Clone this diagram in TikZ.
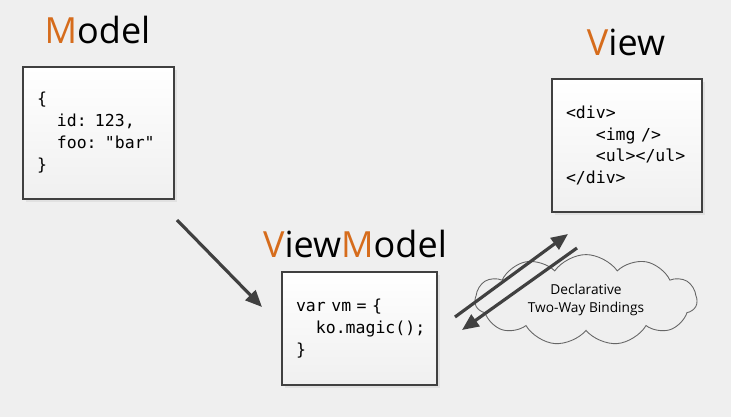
\documentclass[tikz,border=0pt]{standalone}
\usepackage{fontspec}
\setmainfont{Open Sans}
\setmonofont{DejaVu Sans Mono}
\usetikzlibrary{arrows.meta,shapes.symbols,shadows}
\definecolor{bg}{RGB}{239,239,239}
\definecolor{mvvm}{RGB}{214,108,28}
\definecolor{edge}{RGB}{64,64,64}
\newcommand{\hl}[1]{\textcolor{mvvm}{#1}}
\newcommand{\ind}[1]{\phantom{#1}}

\begin{document}
\begin{tikzpicture}[x=0.02cm, y=-0.02cm,
    title/.style={anchor=base, inner sep=0pt, font=\fontsize{20.5}{24}\selectfont},
    codebox/.style={draw=edge, line width=0.6pt, top color=white, bottom color=black!6,
        align=left, inner xsep=0.28cm, font=\fontsize{9.4}{12.5}\selectfont\ttfamily,
        drop shadow={shadow xshift=1.5pt, shadow yshift=-1.5pt, opacity=0.12}},
    link/.style={draw=edge, line width=1.8pt, -{Triangle[length=9.5pt,width=8pt]}}]
    \fill[bg] (0,0) rectangle (731,417);
    \useasboundingbox (0,0) rectangle (731,417);

    % titles
    \node[title] (mtitle) at (97.5,43) {\hl{M}odel};
    \node[title] (vtitle) at (626,55) {\hl{V}iew};
    \node[title] (vmtitle) at (355,257) {\hl{V}iew\hl{M}odel};

    % boxes
    \node[codebox, minimum width=3.02cm, minimum height=2.64cm, text width=2.46cm]
        (model) at (98.5,133) {\{\\\ind{xx}id: 123,\\\ind{xx}foo: "bar"\\\}};
    \node[codebox, minimum width=3.0cm, minimum height=2.66cm, text width=2.44cm]
        (view) at (627,145.5) {<div>\\\ind{xxx}<img />\\\ind{xxx}<ul></ul>\\</div>};
    \node[codebox, minimum width=3.1cm, minimum height=2.26cm, text width=2.54cm]
        (vm) at (359.5,328.5) {var vm = \{\\\ind{xx}ko.magic();\\\}};

    % bindings
    \node[cloud, cloud puffs=11, cloud puff arc=110, aspect=2.7, draw=edge!80, fill=bg,
        line width=0.5pt, minimum width=4.44cm, minimum height=1.75cm, align=center,
        font=\fontsize{7.8}{10}\selectfont] (bind) at (586,300) {Declarative\\Two-Way Bindings};

    \coordinate (m1) at (177,220);
    \coordinate (m2) at (262,307);
    \draw[link] (m1) -- (m2);
    \coordinate (b1) at (455,317);
    \coordinate (b2) at (568,234);
    \coordinate (b3) at (577,248);
    \coordinate (b4) at (462,330);
    \draw[link] (b1) -- (b2);
    \draw[link] (b3) -- (b4);
\end{tikzpicture}
\end{document}
